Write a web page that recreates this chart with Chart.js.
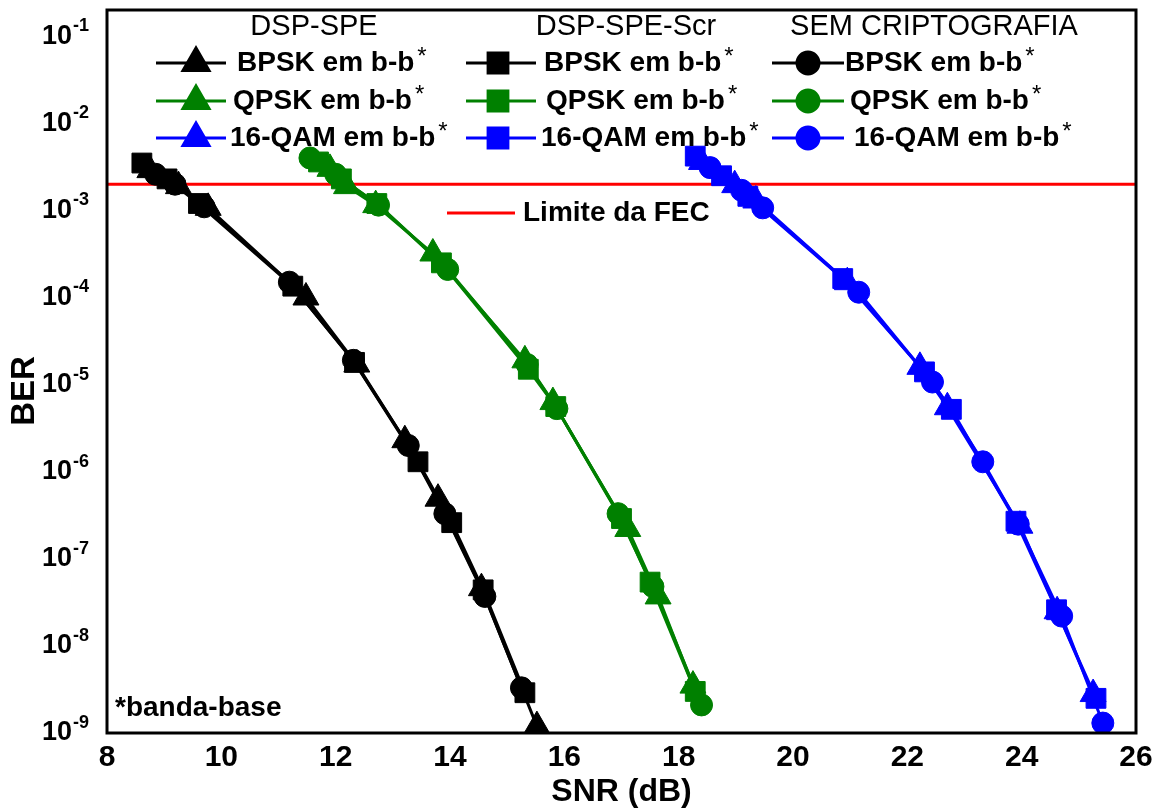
<!DOCTYPE html>
<html>
<head>
<meta charset="utf-8">
<script src="https://cdn.jsdelivr.net/npm/chart.js@4.4.0/dist/chart.umd.min.js"></script>
<style>
  html, body { margin: 0; padding: 0; background: #fff; }
  #wrap { width: 1162px; height: 808px; }
</style>
</head>
<body>
<div id="wrap"><canvas id="chart" width="1162" height="808"></canvas></div>
<script>
const FONT = '"Liberation Sans", Arial, sans-serif';

// BPSK, QPSK and 16-QAM curves: SNR (dB) and BER per scheme
const bpskSpeSnr  = [8.75, 9.25, 9.77, 11.48, 12.37, 13.21, 13.79, 14.55, 15.52];
const bpskSpeBer  = [2.9e-3, 1.9e-3, 1.07e-3, 1.0e-4, 1.7e-5, 2.3e-6, 4.9e-7, 4.6e-8, 1.2e-9];
const bpskScrSnr  = [8.61, 9.05, 9.6, 11.25, 12.33, 13.44, 14.03, 14.58, 15.31];
const bpskScrBer  = [3.5e-3, 2.3e-3, 1.2e-3, 1.35e-4, 1.8e-5, 1.3e-6, 2.6e-7, 4.4e-8, 2.9e-9];
const bpskNoneSnr = [8.85, 9.19, 9.7, 11.19, 12.31, 13.27, 13.91, 14.61, 15.25];
const bpskNoneBer = [2.6e-3, 2.0e-3, 1.1e-3, 1.5e-4, 1.9e-5, 2.0e-6, 3.3e-7, 3.7e-8, 3.3e-9];

const qpskSpeSnr  = [11.9, 12.19, 12.7, 13.7, 15.31, 15.8, 17.11, 17.64, 18.25];
const qpskSpeBer  = [3.0e-3, 1.9e-3, 1.15e-3, 3.2e-4, 1.9e-5, 6.3e-6, 2.2e-7, 3.7e-8, 3.5e-9];
const qpskScrSnr  = [11.7, 12.1, 12.72, 13.85, 15.37, 15.85, 17.0, 17.5, 18.29];
const qpskScrBer  = [3.6e-3, 2.3e-3, 1.2e-3, 2.5e-4, 1.5e-5, 5.6e-6, 2.9e-7, 5.4e-8, 3.0e-9];
const qpskNoneSnr = [11.55, 12.0, 12.75, 13.96, 15.35, 15.87, 16.94, 17.55, 18.4];
const qpskNoneBer = [4.0e-3, 2.6e-3, 1.15e-3, 2.1e-4, 1.7e-5, 5.3e-6, 3.3e-7, 4.8e-8, 2.1e-9];

const qamSpeSnr  = [18.4, 18.98, 19.35, 20.95, 22.22, 22.7, 23.97, 24.62, 25.25];
const qamSpeBer  = [3.6e-3, 1.95e-3, 1.3e-3, 1.5e-4, 1.6e-5, 5.5e-6, 2.4e-7, 2.5e-8, 2.8e-9];
const qamScrSnr  = [18.29, 18.75, 19.21, 20.87, 22.3, 22.77, 23.9, 24.61, 25.3];
const qamScrBer  = [4.2e-3, 2.5e-3, 1.45e-3, 1.65e-4, 1.4e-5, 5.2e-6, 2.7e-7, 2.6e-8, 2.5e-9];
const qamNoneSnr = [18.55, 19.1, 19.47, 21.15, 22.44, 23.32, 23.94, 24.7, 25.42];
const qamNoneBer = [3.1e-3, 1.7e-3, 1.07e-3, 1.15e-4, 1.07e-5, 1.3e-6, 2.5e-7, 2.2e-8, 1.3e-9];

const fecLimit = 2e-3;
const xTicks = [8, 10, 12, 14, 16, 18, 20, 22, 24, 26];
const yExponents = [-1, -2, -3, -4, -5, -6, -7, -8, -9];
const groupTitles = ['DSP-SPE', 'DSP-SPE-Scr', 'SEM CRIPTOGRAFIA'];
const modLabels = ['BPSK em b-b', 'QPSK em b-b', '16-QAM em b-b'];

const BLACK = '#000000', GREEN = '#008000', BLUE = '#0000ff', RED = '#ff0000';
const modColors = [BLACK, GREEN, BLUE];
const groupStyles = [
  { style: 'triangle', radius: 15 },
  { style: 'rect', radius: 14 },
  { style: 'circle', radius: 11 }
];

function toPoints(xs, ys) {
  return xs.map((x, i) => ({ x: x, y: ys[i] }));
}

function curve(label, xs, ys, color, group) {
  const st = groupStyles[group];
  return {
    label: label,
    data: toPoints(xs, ys),
    showLine: true,
    borderColor: color,
    backgroundColor: color,
    borderWidth: 3,
    pointStyle: st.style,
    pointRadius: st.radius,
    pointBackgroundColor: color,
    pointBorderColor: color,
    pointBorderWidth: 1,
    tension: 0
  };
}

const datasets = [
  curve('BPSK DSP-SPE', bpskSpeSnr, bpskSpeBer, BLACK, 0),
  curve('BPSK DSP-SPE-Scr', bpskScrSnr, bpskScrBer, BLACK, 1),
  curve('BPSK sem cripto', bpskNoneSnr, bpskNoneBer, BLACK, 2),
  curve('QPSK DSP-SPE', qpskSpeSnr, qpskSpeBer, GREEN, 0),
  curve('QPSK DSP-SPE-Scr', qpskScrSnr, qpskScrBer, GREEN, 1),
  curve('QPSK sem cripto', qpskNoneSnr, qpskNoneBer, GREEN, 2),
  curve('16-QAM DSP-SPE', qamSpeSnr, qamSpeBer, BLUE, 0),
  curve('16-QAM DSP-SPE-Scr', qamScrSnr, qamScrBer, BLUE, 1),
  curve('16-QAM sem cripto', qamNoneSnr, qamNoneBer, BLUE, 2),
  {
    label: 'Limite da FEC',
    data: [{ x: xTicks[0], y: fecLimit }, { x: xTicks[xTicks.length - 1], y: fecLimit }],
    showLine: true,
    borderColor: RED,
    borderWidth: 3,
    pointRadius: 0
  }
];

// legend layout: one column per processing chain, one row per modulation
const legendCols = [
  { x0: 156, x1: 226, mark: 196, text: [237, 233, 230] },
  { x0: 466, x1: 536, mark: 498, text: [544, 546, 541] },
  { x0: 772, x1: 844, mark: 808, text: [845, 850, 854] }
];
const legendRows = [63, 101, 138];
const titleCenters = [314, 626, 934];

function marker(ctx, style, radius, x, y, color) {
  ctx.save();
  ctx.fillStyle = color;
  ctx.strokeStyle = color;
  Chart.helpers.drawPoint(ctx, { pointStyle: style, radius: radius, rotation: 0, borderWidth: 1 }, x, y);
  ctx.restore();
}

const decorations = {
  id: 'decorations',
  afterDatasetsDraw(chart) {
    const { ctx, chartArea: a } = chart;
    ctx.save();
    ctx.strokeStyle = BLACK;
    ctx.lineWidth = 3;
    ctx.strokeRect(a.left, a.top, a.right - a.left, a.bottom - a.top);
    ctx.restore();
  },
  afterDraw(chart) {
    const { ctx } = chart;
    const xs = chart.scales.x, ys = chart.scales.y;
    ctx.save();
    ctx.fillStyle = BLACK;
    ctx.textBaseline = 'middle';

    // x tick labels
    ctx.font = 'bold 30px ' + FONT;
    ctx.textAlign = 'center';
    xTicks.forEach(v => ctx.fillText(String(v), xs.getPixelForValue(v), 758));

    // y tick labels as 10 with a raised exponent
    yExponents.forEach(e => {
      const y = ys.getPixelForValue(Math.pow(10, e));
      ctx.font = 'bold 27px ' + FONT;
      ctx.textAlign = 'right';
      ctx.fillText('10', 72, y);
      ctx.font = 'bold 18px ' + FONT;
      ctx.textAlign = 'left';
      ctx.fillText(String(e), 73, y - 10);
    });

    // axis titles
    ctx.font = 'bold 32px ' + FONT;
    ctx.textAlign = 'center';
    ctx.fillText('SNR (dB)', (xs.left + xs.right) / 2, 792);
    ctx.save();
    ctx.translate(25, 391);
    ctx.rotate(-Math.PI / 2);
    ctx.font = 'bold 33px ' + FONT;
    ctx.fillText('BER', 0, 0);
    ctx.restore();

    // legend headers
    ctx.font = '29px ' + FONT;
    ctx.textAlign = 'center';
    groupTitles.forEach((t, i) => ctx.fillText(t, titleCenters[i], 27));

    // legend rows
    legendCols.forEach((col, g) => {
      legendRows.forEach((y, m) => {
        const color = modColors[m];
        ctx.strokeStyle = color;
        ctx.lineWidth = 3;
        ctx.beginPath();
        ctx.moveTo(col.x0, y);
        ctx.lineTo(col.x1, y);
        ctx.stroke();
        marker(ctx, groupStyles[g].style, groupStyles[g].radius, col.mark, y, color);
        ctx.fillStyle = BLACK;
        ctx.font = 'bold 28px ' + FONT;
        ctx.textAlign = 'left';
        ctx.fillText(modLabels[m], col.text[m], y);
        const w = ctx.measureText(modLabels[m]).width;
        ctx.font = '24px ' + FONT;
        ctx.fillText('*', col.text[m] + w + 3, y - 6);
      });
    });

    // FEC limit legend
    ctx.strokeStyle = RED;
    ctx.lineWidth = 3;
    ctx.beginPath();
    ctx.moveTo(447, 213);
    ctx.lineTo(515, 213);
    ctx.stroke();
    ctx.fillStyle = BLACK;
    ctx.font = 'bold 28px ' + FONT;
    ctx.textAlign = 'left';
    ctx.fillText('Limite da FEC', 523, 213);

    // footnote
    ctx.fillText('*banda-base', 115, 708);
    ctx.restore();
  }
};

new Chart(document.getElementById('chart'), {
  type: 'scatter',
  data: { datasets: datasets },
  options: {
    responsive: false,
    animation: false,
    layout: { autoPadding: false, padding: { top: 10, right: 26, left: 0, bottom: 0 } },
    plugins: { legend: { display: false }, tooltip: { enabled: false } },
    scales: {
      x: {
        type: 'linear',
        min: 8,
        max: 26,
        ticks: { display: false, stepSize: 2 },
        grid: { display: false, drawTicks: false },
        border: { display: false },
        afterFit: s => { s.height = 75; }
      },
      y: {
        type: 'logarithmic',
        min: 1e-9,
        max: 0.2,
        bounds: 'data',
        ticks: { display: false },
        grid: { display: false, drawTicks: false },
        border: { display: false },
        afterFit: s => { s.width = 107; }
      }
    }
  },
  plugins: [decorations]
});
</script>
</body>
</html>
